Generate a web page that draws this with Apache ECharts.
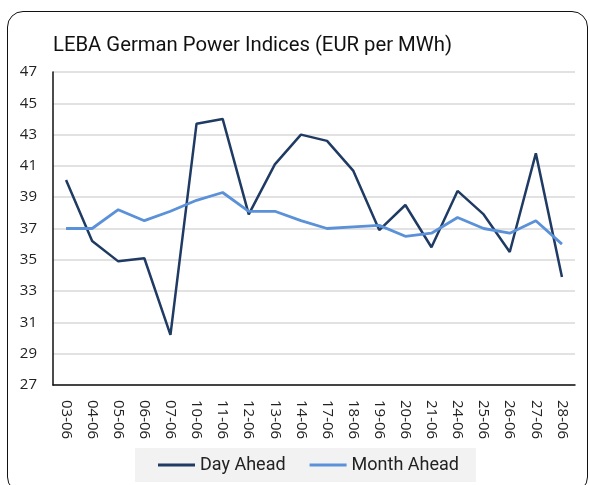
<!DOCTYPE html>
<html>
<head>
<meta charset="utf-8">
<script src="https://cdn.jsdelivr.net/npm/echarts@6/dist/echarts.min.js"></script>
<style>
  html, body { margin: 0; padding: 0; background: #fff; }
  .frame { position: absolute; left: 7px; top: 11px; width: 579px; height: 480px;
           border: 1.5px solid #111; border-radius: 16px; }
  #chart { position: absolute; left: 0; top: 0; width: 590px; height: 485px; }
</style>
</head>
<body>
<div class="frame"></div>
<div id="chart"></div>
<script>
// data
var days = ["03-06","04-06","05-06","06-06","07-06","10-06","11-06","12-06","13-06","14-06",
            "17-06","18-06","19-06","20-06","21-06","24-06","25-06","26-06","27-06","28-06"];
var dayAhead = [40.1, 36.2, 34.9, 35.1, 30.2, 43.7, 44.0, 37.9, 41.1, 43.0,
                42.6, 40.7, 36.9, 38.5, 35.8, 39.4, 37.9, 35.5, 41.8, 33.9];
var monthAhead = [37.0, 37.0, 38.2, 37.5, 38.1, 38.8, 39.3, 38.1, 38.1, 37.5,
                  37.0, 37.1, 37.2, 36.5, 36.7, 37.7, 37.0, 36.7, 37.5, 36.0];

var myChart = echarts.init(document.getElementById("chart"));

var option = {
    title: {
        text: 'LEBA German Power Indices (EUR per MWh)',
        left: 48,
        top: 31,
        textStyle: { fontFamily: 'Roboto, sans-serif', fontSize: 20.3, fontWeight: 'normal', color: '#111' }
    },
    legend: {
        data: ['Day Ahead', 'Month Ahead'],
        left: 135,
        top: 448,
        backgroundColor: '#f2f2f2',
        padding: [8, 17, 8, 23],
        itemGap: 24,
        itemWidth: 37,
        itemHeight: 3,
        icon: 'rect',
        textStyle: { fontFamily: 'Roboto, sans-serif', fontSize: 18, color: '#222' }
    },
    grid: { left: 53, right: 15, top: 72, bottom: 100 },
    xAxis: {
        type: 'category',
        data: days,
        boundaryGap: true,
        axisLine: { lineStyle: { color: '#111', width: 1.5 } },
        axisTick: { show: false },
        axisLabel: { rotate: -90, margin: 15, fontSize: 15, color: '#222', fontFamily: 'Open Sans, sans-serif' }
    },
    yAxis: {
        type: 'value',
        min: 27,
        max: 47,
        interval: 2,
        axisLine: { show: true, lineStyle: { color: '#111', width: 1.5 } },
        axisTick: { show: false },
        axisLabel: { fontSize: 15, color: '#222', margin: 16, fontFamily: 'Open Sans, sans-serif' },
        splitLine: { lineStyle: { color: '#d9d9d9', width: 1.5 } }
    },
    series: [
        {
            name: 'Day Ahead',
            type: 'line',
            data: dayAhead,
            symbol: 'none',
            color: '#1f3a63',
            lineStyle: { width: 2.5, color: '#1f3a63' }
        },
        {
            name: 'Month Ahead',
            type: 'line',
            data: monthAhead,
            symbol: 'none',
            color: '#5a91d8',
            lineStyle: { width: 2.8, color: '#5a91d8' }
        }
    ]
};

myChart.setOption(option);
</script>
</body>
</html>
